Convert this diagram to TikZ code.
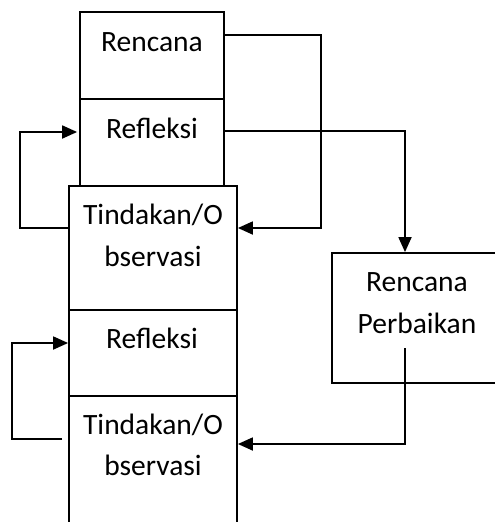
\documentclass[tikz,border=0pt]{standalone}
\usepackage{fontspec}
\setmainfont{Carlito}
\usetikzlibrary{arrows.meta}
\begin{document}
\begin{tikzpicture}[x=1pt,y=-1pt,
  box/.style={draw=black, line width=1.8pt, inner sep=0pt, rectangle},
  txt/.style={font=\fontsize{29.5}{41}\selectfont, inner sep=0pt, anchor=base},
  arr/.style={draw=black, line width=1.8pt, -{Triangle[length=15pt,width=13pt]}},
  ln/.style={draw=black, line width=1.8pt}]
\useasboundingbox (0,0) rectangle (495,522);
% boxes
\node[box, minimum width=144pt, minimum height=87pt] (ren) at (152,55.5) {};
\node[box, minimum width=144pt, minimum height=87pt] (ref1) at (152,142.5) {};
\node[box, minimum width=168pt, minimum height=124pt] (tin1) at (153,248) {};
\node[box, minimum width=168pt, minimum height=86pt] (ref2) at (153,353) {};
\node[box, minimum width=168pt, minimum height=144pt] (tin2) at (153,468) {};
\node[box, minimum width=188pt, minimum height=130pt] (rp) at (426,318) {};
% texts
\node[txt] (tRen) at (152,51) {Rencana};
\node[txt] (tRef1) at (152,138) {Refleksi};
\node[txt] (tTin1a) at (153,224) {Tindakan/O};
\node[txt] (tTin1b) at (153,266) {bservasi};
\node[txt] (tRef2) at (152,348) {Refleksi};
\node[txt] (tTin2a) at (153,434) {Tindakan/O};
\node[txt] (tTin2b) at (153,475) {bservasi};
\node[txt] (tRp1) at (417,291) {Rencana};
\node[txt] (tRp2) at (417,333) {Perbaikan};
% connectors
\draw[arr] ([yshift=-24pt]ren.north east) -- ++(96,0) |- ([yshift=20pt]tin1.east);
\draw[arr] ([yshift=-33pt]ref1.north east) -| ([xshift=-21pt]rp.north);
\draw[arr] ([yshift=20pt]tin1.west) -- ++(-48,0) |- ([xshift=-2pt,yshift=10.5pt]ref1.west);
\draw[arr] ([xshift=-6pt,yshift=29pt]tin2.west) -- ++(-50,0) |- ([yshift=10pt]ref2.west);
\draw[arr] ([xshift=-21pt,yshift=-30pt]rp.center) |- ([yshift=24pt]tin2.east);
\end{tikzpicture}
\end{document}
